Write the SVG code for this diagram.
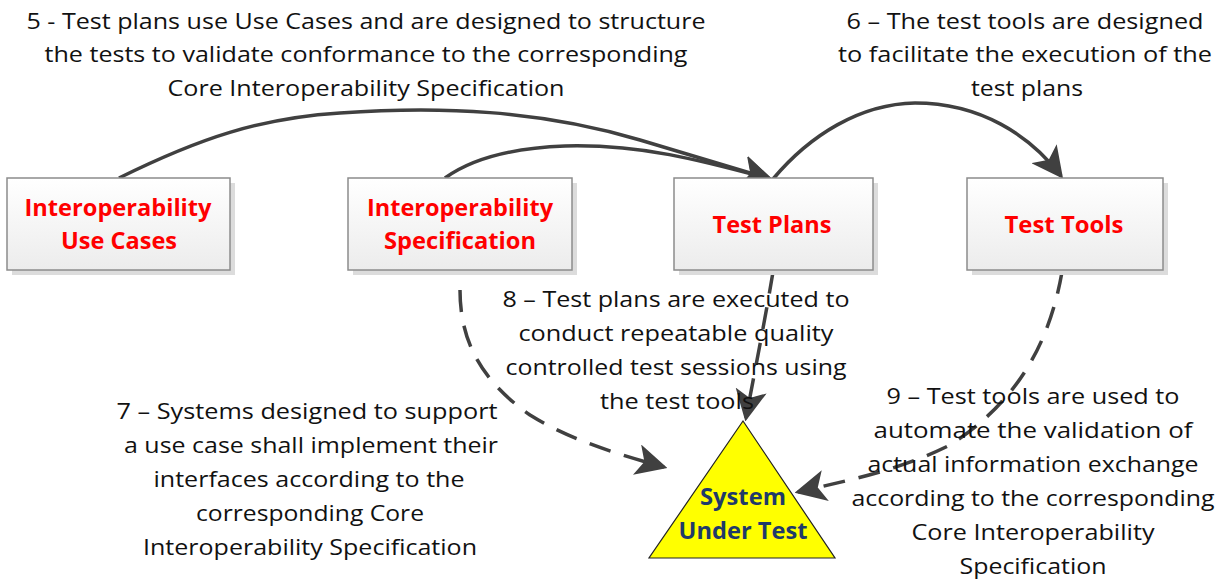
<svg xmlns="http://www.w3.org/2000/svg" width="1217" height="582" viewBox="0 0 1217 582">
<style>
.box{fill:url(#g);stroke:#8c8c8c;stroke-width:1.5}
.sh{fill:#dcdcdc}
.nt{font-family:"Open Sans","Liberation Sans",sans-serif;font-weight:bold;font-size:23.5px;fill:#ff0000;text-anchor:middle}
.lb{font-family:"Open Sans","Liberation Sans",sans-serif;font-size:21px;fill:#111;text-anchor:middle}
.st{font-family:"Open Sans","Liberation Sans",sans-serif;font-weight:bold;font-size:23.5px;fill:#1f3a6a;text-anchor:middle}
.c{fill:none;stroke:#404040;stroke-width:3.5}
.d{fill:none;stroke:#404040;stroke-width:3.5;stroke-dasharray:22 14}
</style>
<defs>
<linearGradient id="g" x1="0" y1="0" x2="0" y2="1"><stop offset="0" stop-color="#ffffff"/><stop offset="1" stop-color="#ececec"/></linearGradient>
<marker id="a" markerWidth="9" markerHeight="9" refX="8" refY="4.5" orient="auto" markerUnits="strokeWidth"><path d="M0,0 L9,4.5 L0,9 L2.2,4.5 Z" fill="#404040"/></marker>
</defs>
<g id="label5">
<text class="lb" x="366" y="29" textLength="679" lengthAdjust="spacingAndGlyphs">5 -  Test plans use Use Cases and are designed to structure</text>
<text class="lb" x="366" y="62" textLength="643" lengthAdjust="spacingAndGlyphs">the tests to validate conformance to the corresponding</text>
<text class="lb" x="366" y="96" textLength="397" lengthAdjust="spacingAndGlyphs">Core Interoperability Specification</text>
</g>
<g id="label6">
<text class="lb" x="1025" y="29" textLength="357" lengthAdjust="spacingAndGlyphs">6 – The test tools are designed</text>
<text class="lb" x="1025" y="62" textLength="374" lengthAdjust="spacingAndGlyphs">to facilitate the execution of the</text>
<text class="lb" x="1027" y="96" textLength="112" lengthAdjust="spacingAndGlyphs">test plans</text>
</g>
<g id="connectors">
<path class="c" marker-end="url(#a)" d="M119,178 C200,138 260,118 340,113 C440,106 540,110 640,140 C700,158 740,170 770,179"/>
<path class="c" marker-end="url(#a)" d="M445,178 C470,160 510,148 565,146 C640,144 700,160 770,179"/>
<path class="c" marker-end="url(#a)" d="M773,179 C810,135 860,104 915,103 C980,103 1030,135 1061,176"/>
<path class="d" marker-end="url(#a)" d="M460,290 C460,340 480,380 530,415 C570,440 620,455 664,467"/>
<path class="d" marker-end="url(#a)" d="M773,272 C765,320 755,370 746,418"/>
<path class="d" marker-end="url(#a)" d="M1062,272 C1050,340 1020,400 950,445 C900,470 850,480 798,492"/>
</g>
<g id="useCases">
<rect class="sh" x="12" y="183" width="223" height="92"/>
<rect class="box" x="7" y="178" width="223" height="92"/>
<text class="nt" x="118" y="216" textLength="187" lengthAdjust="spacingAndGlyphs">Interoperability</text>
<text class="nt" x="119" y="249" textLength="116" lengthAdjust="spacingAndGlyphs">Use Cases</text>
</g>
<g id="spec">
<rect class="sh" x="353" y="183" width="224" height="92"/>
<rect class="box" x="348" y="178" width="224" height="92"/>
<text class="nt" x="460" y="216" textLength="186" lengthAdjust="spacingAndGlyphs">Interoperability</text>
<text class="nt" x="460" y="249" textLength="152" lengthAdjust="spacingAndGlyphs">Specification</text>
</g>
<g id="testPlans">
<rect class="sh" x="679" y="183" width="199" height="92"/>
<rect class="box" x="674" y="178" width="199" height="92"/>
<text class="nt" x="772" y="233" textLength="119" lengthAdjust="spacingAndGlyphs">Test Plans</text>
</g>
<g id="testTools">
<rect class="sh" x="972" y="183" width="196" height="92"/>
<rect class="box" x="967" y="178" width="196" height="92"/>
<text class="nt" x="1064" y="233" textLength="119" lengthAdjust="spacingAndGlyphs">Test Tools</text>
</g>
<g id="sut">
<polygon points="743,421 835,558 649,558" fill="#ffff00" stroke="#222" stroke-width="1.2"/>
<text class="st" x="743" y="505" textLength="86" lengthAdjust="spacingAndGlyphs">System</text>
<text class="st" x="743" y="539" textLength="129" lengthAdjust="spacingAndGlyphs">Under Test</text>
</g>
<g id="label8">
<text class="lb" x="676" y="307" textLength="347" lengthAdjust="spacingAndGlyphs">8 – Test plans are executed to</text>
<text class="lb" x="676" y="341" textLength="315" lengthAdjust="spacingAndGlyphs">conduct repeatable quality</text>
<text class="lb" x="676" y="375" textLength="341" lengthAdjust="spacingAndGlyphs">controlled test sessions using</text>
<text class="lb" x="677" y="409" textLength="154" lengthAdjust="spacingAndGlyphs">the test tools</text>
</g>
<g id="label7">
<text class="lb" x="307" y="419" textLength="381" lengthAdjust="spacingAndGlyphs">7 – Systems designed to support</text>
<text class="lb" x="311" y="453" textLength="374" lengthAdjust="spacingAndGlyphs">a use case shall implement their</text>
<text class="lb" x="309" y="487" textLength="311" lengthAdjust="spacingAndGlyphs">interfaces according to the</text>
<text class="lb" x="310" y="521" textLength="228" lengthAdjust="spacingAndGlyphs">corresponding Core</text>
<text class="lb" x="310" y="555" textLength="334" lengthAdjust="spacingAndGlyphs">Interoperability Specification</text>
</g>
<g id="label9">
<text class="lb" x="1033" y="404" textLength="293" lengthAdjust="spacingAndGlyphs">9 – Test tools are used to</text>
<text class="lb" x="1033" y="438" textLength="319" lengthAdjust="spacingAndGlyphs">automate the  validation of</text>
<text class="lb" x="1033" y="472" textLength="331" lengthAdjust="spacingAndGlyphs">actual information exchange</text>
<text class="lb" x="1033" y="506" textLength="363" lengthAdjust="spacingAndGlyphs">according to the corresponding</text>
<text class="lb" x="1033" y="540" textLength="243" lengthAdjust="spacingAndGlyphs">Core Interoperability</text>
<text class="lb" x="1033" y="574" textLength="147" lengthAdjust="spacingAndGlyphs">Specification</text>
</g>
</svg>
